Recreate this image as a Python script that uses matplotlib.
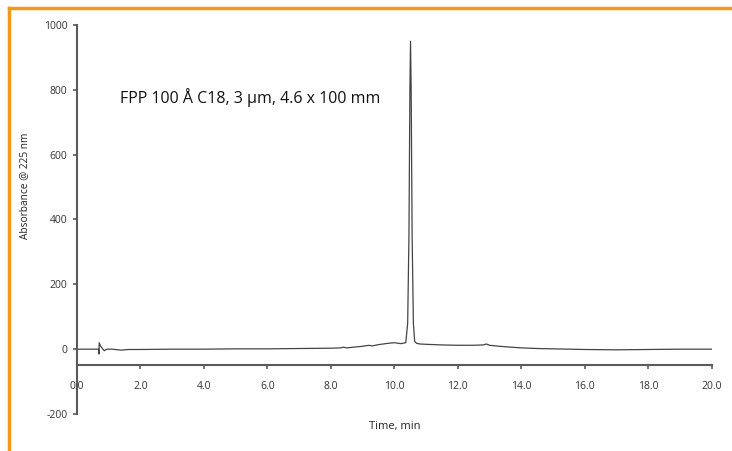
import matplotlib
matplotlib.use("Agg")
import matplotlib.pyplot as plt
from matplotlib.lines import Line2D

# Chromatogram trace (time in min, absorbance in mAU)
time_min = [0.00, 0.60, 0.68, 0.69, 0.70, 0.74, 0.80, 0.86, 0.90, 0.95, 1.10,
            1.40, 1.50, 1.60, 2.0, 3.0, 4.0, 5.0, 6.0, 7.0, 8.0, 8.3, 8.4, 8.5,
            9.0, 9.2, 9.3, 9.5, 9.8, 10.0, 10.2, 10.36, 10.42, 10.46, 10.49,
            10.51, 10.53, 10.56, 10.60, 10.64, 10.70, 10.80, 11.0, 11.5, 12.0,
            12.5, 12.8, 12.9, 13.0, 13.3, 13.7, 14.0, 14.5, 15.0, 16.0, 17.0,
            18.0, 19.0, 20.0]
absorbance = [0, 0, 0, -15, 20, 10, 2, -5, -2, 0, 0,
              -3, -2, -1, -1, 0, 0, 1, 1, 2, 3, 4, 6, 4,
              9, 12, 10, 14, 18, 20, 17, 20, 80, 350, 800,
              950, 800, 350, 80, 24, 18, 16, 15, 13, 12,
              12, 13, 16, 12, 9, 6, 4, 2, 1, -1, -2,
              -1, 0, 0]

x_ticks = [0, 2, 4, 6, 8, 10, 12, 14, 16, 18, 20]
y_ticks = [-200, 0, 200, 400, 600, 800, 1000]
annotation = "FPP 100 Å C18, 3 µm, 4.6 x 100 mm"

plt.rcParams['font.family'] = ['Open Sans', 'DejaVu Sans']

fig = plt.figure(figsize=(7.32, 4.51), dpi=100)
ax = fig.add_axes([77 / 732, 1 - 414 / 451, (711.7 - 77) / 732, (414 - 25) / 451])

ax.plot(time_min, absorbance, color='#444444', lw=0.9)

ax.set_xlim(0, 20)
ax.set_ylim(-200, 1000)
ax.set_xticks(x_ticks)
ax.set_xticklabels([f"{v:.1f}" for v in x_ticks])
ax.set_yticks(y_ticks)
ax.set_yticklabels([str(v) for v in y_ticks])

for s in ['top', 'right']:
    ax.spines[s].set_visible(False)
ax.spines['bottom'].set_position(('data', -50))
for s in ['left', 'bottom']:
    ax.spines[s].set_color('#595959')
    ax.spines[s].set_linewidth(1.5)
ax.tick_params(axis='both', direction='out', length=3, width=1.2,
               color='#595959', labelsize=7.5, labelcolor='#333333')
ax.tick_params(axis='x', pad=8)
ax.tick_params(axis='y', pad=4)

ax.text(1.35, 775, annotation, fontsize=11.5, color='#111111', va='center', ha='left')

fig.text(395 / 732, 1 - 427 / 451, "Time, min", fontsize=8, ha='center', va='center',
         color='#222222')
fig.text(25 / 732, 1 - 186 / 451, "Absorbance @ 225 nm", fontsize=7.3, rotation=90,
         ha='center', va='center', color='#222222')

# orange frame (top and left edges)
orange = '#F39A1E'
fig.add_artist(Line2D([9 / 732, 1], [1 - 8 / 451, 1 - 8 / 451], transform=fig.transFigure,
                      color=orange, lw=2.5))
fig.add_artist(Line2D([9 / 732, 9 / 732], [0, 1 - 8 / 451], transform=fig.transFigure,
                      color=orange, lw=2.5))

fig.savefig("out.png", dpi=100)
